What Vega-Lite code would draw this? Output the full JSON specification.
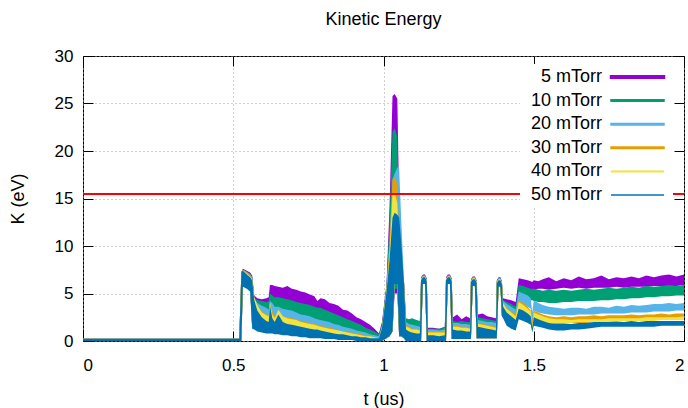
{
"$schema": "https://vega.github.io/schema/vega-lite/v6.json",
"width": 601, "height": 285,
"autosize": {"type": "none"},
"padding": {"left": 83, "top": 56, "right": 4, "bottom": 67},
"title": {"text": "Kinetic Energy", "fontSize": 18, "font": "Liberation Sans", "fontWeight": "normal", "color": "#000", "offset": 18, "anchor": "middle"},
"config": {
  "view": {"stroke": "#000", "strokeWidth": 1},
  "font": "Liberation Sans",
  "axis": {"labelFont": "Liberation Sans", "labelFontSize": 17, "labelColor": "#000", "titleFont": "Liberation Sans", "titleFontSize": 18, "titleFontWeight": "normal", "titleColor": "#000", "tickColor": "#000", "domain": false, "gridColor": "#a0a0a0", "gridDash": [1, 3], "gridWidth": 1}
},
"datasets": {"ke": [
{"t":0,"h5":0.25,"l5":0,"h10":0.25,"l10":0,"h20":0.25,"l20":0,"h30":0.25,"l30":0,"h40":0.25,"l40":0,"h50":0.25,"l50":0},
{"t":0.52,"h5":0.25,"l5":0,"h10":0.25,"l10":0,"h20":0.25,"l20":0,"h30":0.25,"l30":0,"h40":0.25,"l40":0,"h50":0.25,"l50":0},
{"t":0.527,"h5":7.2,"l5":0,"h10":7.2,"l10":0,"h20":7.2,"l20":0,"h30":7.3,"l30":0,"h40":7.3,"l40":0,"h50":7.3,"l50":0},
{"t":0.532,"h5":7.6,"l5":6.0,"h10":7.5,"l10":6.0,"h20":7.5,"l20":5.9,"h30":7.5,"l30":5.9,"h40":7.4,"l40":5.8,"h50":7.4,"l50":5.7},
{"t":0.545,"h5":7.4,"l5":6.0,"h10":7.3,"l10":5.9,"h20":7.3,"l20":5.8,"h30":7.2,"l30":5.7,"h40":7.1,"l40":5.6,"h50":7.0,"l50":5.5},
{"t":0.556,"h5":7.2,"l5":5.8,"h10":7.1,"l10":5.7,"h20":7.0,"l20":5.6,"h30":6.9,"l30":5.5,"h40":6.8,"l40":5.4,"h50":6.7,"l50":5.2},
{"t":0.563,"h5":6.9,"l5":1.5,"h10":6.8,"l10":1.5,"h20":6.7,"l20":1.5,"h30":6.6,"l30":1.4,"h40":6.5,"l40":1.4,"h50":6.4,"l50":1.3},
{"t":0.57,"h5":4.8,"l5":1.4,"h10":4.6,"l10":1.4,"h20":4.5,"l20":1.4,"h30":4.4,"l30":1.3,"h40":4.6,"l40":1.3,"h50":4.3,"l50":1.2},
{"t":0.58,"h5":4.5,"l5":1.3,"h10":4.3,"l10":1.3,"h20":4.0,"l20":1.3,"h30":3.6,"l30":1.2,"h40":3.8,"l40":1.2,"h50":3.2,"l50":1.0},
{"t":0.595,"h5":4.4,"l5":1.2,"h10":4.2,"l10":1.2,"h20":3.7,"l20":1.2,"h30":3.1,"l30":1.1,"h40":3.0,"l40":1.0,"h50":2.5,"l50":0.9},
{"t":0.61,"h5":4.5,"l5":1.1,"h10":4.1,"l10":1.1,"h20":3.5,"l20":1.1,"h30":2.8,"l30":1.0,"h40":2.7,"l40":0.9,"h50":2.1,"l50":0.8},
{"t":0.618,"h5":4.6,"l5":1.1,"h10":4.2,"l10":1.1,"h20":3.3,"l20":1.1,"h30":2.7,"l30":1.0,"h40":2.6,"l40":0.9,"h50":2.0,"l50":0.8},
{"t":0.622,"h5":5.9,"l5":1.1,"h10":5.0,"l10":1.1,"h20":4.2,"l20":1.1,"h30":3.9,"l30":1.0,"h40":4.1,"l40":0.9,"h50":3.8,"l50":0.8},
{"t":0.63,"h5":5.9,"l5":1.0,"h10":4.8,"l10":1.0,"h20":4.0,"l20":1.0,"h30":3.2,"l30":0.9,"h40":2.8,"l40":0.9,"h50":2.4,"l50":0.8},
{"t":0.638,"h5":5.8,"l5":1.0,"h10":4.6,"l10":1.0,"h20":3.6,"l20":1.0,"h30":2.6,"l30":0.9,"h40":2.4,"l40":0.8,"h50":2.0,"l50":0.7},
{"t":0.65,"h5":5.7,"l5":1.0,"h10":4.6,"l10":1.0,"h20":3.6,"l20":1.0,"h30":3.0,"l30":0.9,"h40":3.3,"l40":0.8,"h50":2.8,"l50":0.7},
{"t":0.665,"h5":5.6,"l5":0.9,"h10":4.5,"l10":0.9,"h20":3.4,"l20":0.9,"h30":2.6,"l30":0.8,"h40":2.6,"l40":0.8,"h50":2.0,"l50":0.6},
{"t":0.68,"h5":5.8,"l5":0.9,"h10":4.4,"l10":0.9,"h20":3.3,"l20":0.9,"h30":2.5,"l30":0.8,"h40":2.4,"l40":0.7,"h50":1.8,"l50":0.6},
{"t":0.695,"h5":5.5,"l5":0.8,"h10":4.3,"l10":0.8,"h20":3.2,"l20":0.8,"h30":2.4,"l30":0.7,"h40":2.3,"l40":0.7,"h50":1.7,"l50":0.5},
{"t":0.71,"h5":5.4,"l5":0.8,"h10":4.1,"l10":0.8,"h20":3.0,"l20":0.8,"h30":2.3,"l30":0.7,"h40":2.2,"l40":0.6,"h50":1.6,"l50":0.5},
{"t":0.725,"h5":5.2,"l5":0.7,"h10":4.0,"l10":0.7,"h20":2.8,"l20":0.7,"h30":2.1,"l30":0.6,"h40":2.0,"l40":0.6,"h50":1.5,"l50":0.4},
{"t":0.74,"h5":5.1,"l5":0.7,"h10":3.9,"l10":0.7,"h20":2.7,"l20":0.7,"h30":2.0,"l30":0.6,"h40":1.9,"l40":0.5,"h50":1.4,"l50":0.4},
{"t":0.755,"h5":4.9,"l5":0.6,"h10":3.8,"l10":0.6,"h20":2.6,"l20":0.6,"h30":1.9,"l30":0.5,"h40":1.8,"l40":0.5,"h50":1.3,"l50":0.3},
{"t":0.77,"h5":4.7,"l5":0.6,"h10":3.6,"l10":0.6,"h20":2.4,"l20":0.6,"h30":1.8,"l30":0.5,"h40":1.7,"l40":0.4,"h50":1.2,"l50":0.3},
{"t":0.78,"h5":4.2,"l5":0.6,"h10":3.5,"l10":0.6,"h20":2.3,"l20":0.6,"h30":1.7,"l30":0.5,"h40":1.6,"l40":0.4,"h50":1.2,"l50":0.3},
{"t":0.79,"h5":4.5,"l5":0.5,"h10":3.5,"l10":0.5,"h20":2.2,"l20":0.5,"h30":1.6,"l30":0.4,"h40":1.5,"l40":0.4,"h50":1.1,"l50":0.3},
{"t":0.805,"h5":4.4,"l5":0.5,"h10":3.3,"l10":0.5,"h20":2.1,"l20":0.5,"h30":1.5,"l30":0.4,"h40":1.4,"l40":0.3,"h50":1.0,"l50":0.2},
{"t":0.82,"h5":4.0,"l5":0.5,"h10":3.1,"l10":0.5,"h20":2.0,"l20":0.5,"h30":1.4,"l30":0.4,"h40":1.3,"l40":0.3,"h50":0.9,"l50":0.2},
{"t":0.835,"h5":3.9,"l5":0.4,"h10":2.9,"l10":0.4,"h20":1.8,"l20":0.4,"h30":1.3,"l30":0.3,"h40":1.2,"l40":0.3,"h50":0.8,"l50":0.2},
{"t":0.85,"h5":3.7,"l5":0.4,"h10":2.7,"l10":0.4,"h20":1.7,"l20":0.4,"h30":1.1,"l30":0.3,"h40":1.1,"l40":0.2,"h50":0.7,"l50":0.1},
{"t":0.865,"h5":3.3,"l5":0.3,"h10":2.5,"l10":0.3,"h20":1.5,"l20":0.3,"h30":1.0,"l30":0.3,"h40":1.0,"l40":0.2,"h50":0.7,"l50":0.1},
{"t":0.88,"h5":3.2,"l5":0.3,"h10":2.3,"l10":0.3,"h20":1.4,"l20":0.3,"h30":0.9,"l30":0.2,"h40":0.9,"l40":0.2,"h50":0.6,"l50":0.1},
{"t":0.895,"h5":2.9,"l5":0.3,"h10":2.1,"l10":0.3,"h20":1.3,"l20":0.3,"h30":0.9,"l30":0.2,"h40":0.8,"l40":0.1,"h50":0.5,"l50":0.1},
{"t":0.91,"h5":2.5,"l5":0.2,"h10":1.9,"l10":0.2,"h20":1.1,"l20":0.2,"h30":0.8,"l30":0.2,"h40":0.7,"l40":0.1,"h50":0.5,"l50":0},
{"t":0.925,"h5":2.3,"l5":0.2,"h10":1.7,"l10":0.2,"h20":1.0,"l20":0.2,"h30":0.7,"l30":0.1,"h40":0.6,"l40":0.1,"h50":0.4,"l50":0},
{"t":0.94,"h5":2.0,"l5":0.1,"h10":1.4,"l10":0.1,"h20":0.9,"l20":0.1,"h30":0.6,"l30":0.1,"h40":0.5,"l40":0,"h50":0.4,"l50":0},
{"t":0.955,"h5":1.7,"l5":0.1,"h10":1.2,"l10":0.1,"h20":0.7,"l20":0.1,"h30":0.5,"l30":0.1,"h40":0.5,"l40":0,"h50":0.3,"l50":0},
{"t":0.97,"h5":1.3,"l5":0,"h10":1.0,"l10":0,"h20":0.6,"l20":0,"h30":0.4,"l30":0,"h40":0.4,"l40":0,"h50":0.3,"l50":0},
{"t":0.985,"h5":0.8,"l5":0,"h10":0.7,"l10":0,"h20":0.5,"l20":0,"h30":0.4,"l30":0,"h40":0.3,"l40":0,"h50":0.3,"l50":0},
{"t":0.995,"h5":2.0,"l5":0,"h10":1.8,"l10":0,"h20":1.6,"l20":0,"h30":1.5,"l30":0,"h40":1.5,"l40":0,"h50":1.4,"l50":0},
{"t":1.01,"h5":6.0,"l5":0.3,"h10":5.8,"l10":0.3,"h20":5.6,"l20":0.3,"h30":5.5,"l30":0.3,"h40":5.4,"l40":0.3,"h50":5.2,"l50":0.3},
{"t":1.02,"h5":14,"l5":0.5,"h10":12.5,"l10":0.5,"h20":10.5,"l20":0.5,"h30":10,"l30":0.5,"h40":9,"l40":0.5,"h50":8.5,"l50":0.5},
{"t":1.03,"h5":25.8,"l5":1,"h10":22,"l10":1,"h20":17,"l20":1,"h30":17,"l30":1,"h40":15.5,"l40":1,"h50":13,"l50":1},
{"t":1.037,"h5":26,"l5":5,"h10":22.4,"l10":5.5,"h20":17.6,"l20":6,"h30":17.3,"l30":6,"h40":15.6,"l40":6,"h50":13.5,"l50":6},
{"t":1.046,"h5":25.5,"l5":5,"h10":21.5,"l10":5.5,"h20":18.3,"l20":6,"h30":16.5,"l30":6,"h40":14.5,"l40":6,"h50":13.3,"l50":6},
{"t":1.052,"h5":15,"l5":0.5,"h10":13,"l10":0.5,"h20":18.2,"l20":0.5,"h30":11,"l30":0.5,"h40":10,"l40":0.5,"h50":13,"l50":0.5},
{"t":1.06,"h5":7,"l5":0.5,"h10":7,"l10":0.5,"h20":12,"l20":0.5,"h30":7.2,"l30":0.5,"h40":7,"l40":0.5,"h50":10,"l50":0.5},
{"t":1.068,"h5":6.4,"l5":0.3,"h10":6.4,"l10":0.3,"h20":6.5,"l20":0.3,"h30":6.3,"l30":0.3,"h40":6.2,"l40":0.3,"h50":6.2,"l50":0.3},
{"t":1.075,"h5":2.3,"l5":0,"h10":2.4,"l10":0,"h20":2.0,"l20":0,"h30":1.6,"l30":0,"h40":1.5,"l40":0,"h50":1.2,"l50":0},
{"t":1.085,"h5":2.2,"l5":0,"h10":2.3,"l10":0,"h20":1.8,"l20":0,"h30":1.5,"l30":0,"h40":1.4,"l40":0,"h50":1.0,"l50":0},
{"t":1.095,"h5":2.0,"l5":0,"h10":2.4,"l10":0,"h20":1.7,"l20":0,"h30":1.3,"l30":0,"h40":1.2,"l40":0,"h50":0.9,"l50":0},
{"t":1.11,"h5":2.1,"l5":0,"h10":2.2,"l10":0,"h20":1.6,"l20":0,"h30":1.3,"l30":0,"h40":1.2,"l40":0,"h50":0.8,"l50":0},
{"t":1.121,"h5":2.0,"l5":0,"h10":2.1,"l10":0,"h20":1.5,"l20":0,"h30":1.2,"l30":0,"h40":1.1,"l40":0,"h50":0.8,"l50":0},
{"t":1.125,"h5":6.7,"l5":0,"h10":6.6,"l10":0,"h20":6.6,"l20":0,"h30":6.5,"l30":0,"h40":6.5,"l40":0,"h50":6.4,"l50":0},
{"t":1.131,"h5":7.0,"l5":6.2,"h10":6.9,"l10":6.2,"h20":6.9,"l20":6.2,"h30":6.8,"l30":6.1,"h40":6.8,"l40":6.1,"h50":6.7,"l50":6.0},
{"t":1.138,"h5":7.0,"l5":6.2,"h10":6.9,"l10":6.2,"h20":6.9,"l20":6.2,"h30":6.8,"l30":6.1,"h40":6.8,"l40":6.1,"h50":6.7,"l50":6.0},
{"t":1.144,"h5":6.6,"l5":0,"h10":6.5,"l10":0,"h20":6.5,"l20":0,"h30":6.4,"l30":0,"h40":6.4,"l40":0,"h50":6.3,"l50":0},
{"t":1.148,"h5":1.4,"l5":0,"h10":1.3,"l10":0,"h20":1.2,"l20":0,"h30":1.0,"l30":0,"h40":0.9,"l40":0,"h50":0.6,"l50":0},
{"t":1.165,"h5":1.4,"l5":0,"h10":1.3,"l10":0,"h20":1.2,"l20":0,"h30":1.0,"l30":0,"h40":0.9,"l40":0,"h50":0.6,"l50":0},
{"t":1.185,"h5":1.3,"l5":0,"h10":1.3,"l10":0,"h20":1.1,"l20":0,"h30":1.0,"l30":0,"h40":0.9,"l40":0,"h50":0.5,"l50":0},
{"t":1.204,"h5":1.5,"l5":0,"h10":1.4,"l10":0,"h20":1.2,"l20":0,"h30":1.0,"l30":0,"h40":0.9,"l40":0,"h50":0.6,"l50":0},
{"t":1.208,"h5":6.7,"l5":0,"h10":6.6,"l10":0,"h20":6.6,"l20":0,"h30":6.5,"l30":0,"h40":6.5,"l40":0,"h50":6.4,"l50":0},
{"t":1.214,"h5":7.0,"l5":6.2,"h10":6.9,"l10":6.2,"h20":6.9,"l20":6.2,"h30":6.8,"l30":6.1,"h40":6.8,"l40":6.1,"h50":6.7,"l50":6.0},
{"t":1.221,"h5":7.0,"l5":6.2,"h10":6.9,"l10":6.2,"h20":6.9,"l20":6.2,"h30":6.8,"l30":6.1,"h40":6.8,"l40":6.1,"h50":6.7,"l50":6.0},
{"t":1.227,"h5":6.6,"l5":0.2,"h10":6.5,"l10":0.2,"h20":6.5,"l20":0.2,"h30":6.4,"l30":0.2,"h40":6.4,"l40":0.2,"h50":6.3,"l50":0.2},
{"t":1.231,"h5":2.5,"l5":0.2,"h10":2.1,"l10":0.2,"h20":1.9,"l20":0.2,"h30":1.6,"l30":0.2,"h40":1.5,"l40":0.2,"h50":1.2,"l50":0.2},
{"t":1.245,"h5":2.8,"l5":0.2,"h10":2.0,"l10":0.2,"h20":1.9,"l20":0.2,"h30":1.6,"l30":0.2,"h40":1.5,"l40":0.2,"h50":1.1,"l50":0.2},
{"t":1.26,"h5":2.3,"l5":0.2,"h10":2.1,"l10":0.2,"h20":1.8,"l20":0.2,"h30":1.5,"l30":0.2,"h40":1.4,"l40":0.2,"h50":1.1,"l50":0.2},
{"t":1.275,"h5":2.6,"l5":0.2,"h10":2.0,"l10":0.2,"h20":1.8,"l20":0.2,"h30":1.5,"l30":0.2,"h40":1.4,"l40":0.2,"h50":1.0,"l50":0.2},
{"t":1.288,"h5":2.4,"l5":0.2,"h10":2.0,"l10":0.2,"h20":1.7,"l20":0.2,"h30":1.4,"l30":0.2,"h40":1.3,"l40":0.2,"h50":1.0,"l50":0.2},
{"t":1.291,"h5":6.5,"l5":0.2,"h10":6.4,"l10":0.2,"h20":6.4,"l20":0.2,"h30":6.3,"l30":0.2,"h40":6.3,"l40":0.2,"h50":6.2,"l50":0.2},
{"t":1.297,"h5":6.8,"l5":6.0,"h10":6.7,"l10":6.0,"h20":6.7,"l20":6.0,"h30":6.6,"l30":5.9,"h40":6.6,"l40":5.9,"h50":6.5,"l50":5.8},
{"t":1.304,"h5":6.8,"l5":6.0,"h10":6.7,"l10":6.0,"h20":6.7,"l20":6.0,"h30":6.6,"l30":5.9,"h40":6.6,"l40":5.9,"h50":6.5,"l50":5.8},
{"t":1.31,"h5":6.4,"l5":0.3,"h10":6.3,"l10":0.3,"h20":6.3,"l20":0.3,"h30":6.2,"l30":0.3,"h40":6.2,"l40":0.3,"h50":6.1,"l50":0.3},
{"t":1.314,"h5":2.8,"l5":0.3,"h10":2.5,"l10":0.3,"h20":2.2,"l20":0.3,"h30":1.9,"l30":0.3,"h40":1.8,"l40":0.3,"h50":1.5,"l50":0.3},
{"t":1.33,"h5":2.9,"l5":0.3,"h10":2.4,"l10":0.3,"h20":2.1,"l20":0.3,"h30":1.8,"l30":0.3,"h40":1.7,"l40":0.3,"h50":1.4,"l50":0.3},
{"t":1.345,"h5":2.6,"l5":0.3,"h10":2.3,"l10":0.3,"h20":2.0,"l20":0.3,"h30":1.7,"l30":0.3,"h40":1.6,"l40":0.3,"h50":1.3,"l50":0.3},
{"t":1.36,"h5":2.5,"l5":0.3,"h10":2.2,"l10":0.3,"h20":2.0,"l20":0.3,"h30":1.6,"l30":0.3,"h40":1.5,"l40":0.3,"h50":1.2,"l50":0.3},
{"t":1.374,"h5":2.4,"l5":0.3,"h10":2.1,"l10":0.3,"h20":1.9,"l20":0.3,"h30":1.5,"l30":0.3,"h40":1.4,"l40":0.3,"h50":1.1,"l50":0.3},
{"t":1.377,"h5":6.4,"l5":0.3,"h10":6.3,"l10":0.3,"h20":6.3,"l20":0.3,"h30":6.2,"l30":0.3,"h40":6.2,"l40":0.3,"h50":6.1,"l50":0.3},
{"t":1.383,"h5":6.7,"l5":5.9,"h10":6.6,"l10":5.9,"h20":6.6,"l20":5.9,"h30":6.5,"l30":5.8,"h40":6.5,"l40":5.8,"h50":6.4,"l50":5.7},
{"t":1.389,"h5":6.7,"l5":5.9,"h10":6.6,"l10":5.9,"h20":6.6,"l20":5.9,"h30":6.5,"l30":5.8,"h40":6.5,"l40":5.8,"h50":6.4,"l50":5.7},
{"t":1.394,"h5":6.3,"l5":2.6,"h10":6.2,"l10":2.6,"h20":6.2,"l20":2.6,"h30":6.1,"l30":2.6,"h40":6.1,"l40":2.6,"h50":6.0,"l50":2.6},
{"t":1.398,"h5":4.5,"l5":2.6,"h10":4.3,"l10":2.6,"h20":4.2,"l20":2.6,"h30":4.0,"l30":2.6,"h40":4.0,"l40":2.6,"h50":3.6,"l50":2.4},
{"t":1.41,"h5":4.4,"l5":1.8,"h10":4.1,"l10":1.8,"h20":3.9,"l20":1.8,"h30":3.5,"l30":1.8,"h40":3.4,"l40":1.8,"h50":3.0,"l50":1.6},
{"t":1.425,"h5":4.3,"l5":1.4,"h10":3.9,"l10":1.4,"h20":3.6,"l20":1.4,"h30":3.1,"l30":1.4,"h40":3.0,"l40":1.4,"h50":2.6,"l50":1.3},
{"t":1.44,"h5":4.1,"l5":1.2,"h10":3.6,"l10":1.2,"h20":3.3,"l20":1.2,"h30":2.8,"l30":1.2,"h40":2.6,"l40":1.2,"h50":2.2,"l50":1.1},
{"t":1.45,"h5":6.6,"l5":5.2,"h10":5.9,"l10":4.6,"h20":5.2,"l20":4.0,"h30":4.3,"l30":3.4,"h40":4.1,"l40":3.2,"h50":3.4,"l50":2.3},
{"t":1.465,"h5":6.5,"l5":5.3,"h10":5.8,"l10":4.5,"h20":5.0,"l20":3.8,"h30":4.0,"l30":3.1,"h40":3.8,"l40":2.9,"h50":3.2,"l50":2.1},
{"t":1.48,"h5":6.4,"l5":5.4,"h10":5.6,"l10":4.4,"h20":4.8,"l20":3.6,"h30":3.6,"l30":2.8,"h40":3.4,"l40":2.6,"h50":2.9,"l50":1.9},
{"t":1.49,"h5":6.3,"l5":5.4,"h10":5.5,"l10":4.3,"h20":4.5,"l20":3.4,"h30":3.2,"l30":2.5,"h40":3.1,"l40":2.3,"h50":2.6,"l50":1.7},
{"t":1.495,"h5":6.2,"l5":5.4,"h10":5.5,"l10":4.3,"h20":3.0,"l20":1.5,"h30":2.2,"l30":1.2,"h40":1.5,"l40":1.0,"h50":1.4,"l50":0.9},
{"t":1.5,"h5":6.4,"l5":5.4,"h10":5.5,"l10":4.2,"h20":4.3,"l20":3.2,"h30":3.2,"l30":2.4,"h40":3.0,"l40":2.2,"h50":2.5,"l50":1.6},
{"t":1.515,"h5":6.3,"l5":5.5,"h10":5.4,"l10":4.1,"h20":4.0,"l20":3.0,"h30":3.0,"l30":2.2,"h40":2.8,"l40":2.1,"h50":2.3,"l50":1.5},
{"t":1.53,"h5":6.5,"l5":5.5,"h10":5.3,"l10":4.1,"h20":3.8,"l20":2.9,"h30":2.8,"l30":2.1,"h40":2.6,"l40":2.0,"h50":2.1,"l50":1.4},
{"t":1.55,"h5":6.7,"l5":5.4,"h10":5.4,"l10":4.0,"h20":3.6,"l20":2.8,"h30":2.6,"l30":1.9,"h40":2.4,"l40":1.9,"h50":1.9,"l50":1.2},
{"t":1.575,"h5":6.3,"l5":5.5,"h10":5.3,"l10":4.0,"h20":3.5,"l20":2.7,"h30":2.5,"l30":1.8,"h40":2.3,"l40":1.9,"h50":1.8,"l50":1.1},
{"t":1.6,"h5":6.6,"l5":5.6,"h10":5.4,"l10":4.1,"h20":3.4,"l20":2.7,"h30":2.6,"l30":1.8,"h40":2.3,"l40":1.9,"h50":1.8,"l50":1.1},
{"t":1.625,"h5":6.4,"l5":5.5,"h10":5.3,"l10":4.1,"h20":3.5,"l20":2.7,"h30":2.5,"l30":1.9,"h40":2.2,"l40":1.9,"h50":1.8,"l50":1.2},
{"t":1.65,"h5":6.8,"l5":5.6,"h10":5.4,"l10":4.2,"h20":3.5,"l20":2.8,"h30":2.6,"l30":1.9,"h40":2.3,"l40":2.0,"h50":1.9,"l50":1.2},
{"t":1.675,"h5":6.5,"l5":5.5,"h10":5.5,"l10":4.2,"h20":3.4,"l20":2.8,"h30":2.6,"l30":1.9,"h40":2.3,"l40":2.0,"h50":1.9,"l50":1.3},
{"t":1.7,"h5":6.6,"l5":5.6,"h10":5.4,"l10":4.2,"h20":3.6,"l20":2.8,"h30":2.7,"l30":2.0,"h40":2.3,"l40":2.0,"h50":2.0,"l50":1.4},
{"t":1.725,"h5":6.9,"l5":5.6,"h10":5.5,"l10":4.3,"h20":3.6,"l20":2.9,"h30":2.6,"l30":2.0,"h40":2.3,"l40":2.0,"h50":2.0,"l50":1.5},
{"t":1.75,"h5":6.5,"l5":5.6,"h10":5.6,"l10":4.3,"h20":3.5,"l20":2.9,"h30":2.7,"l30":2.0,"h40":2.4,"l40":2.0,"h50":2.0,"l50":1.5},
{"t":1.775,"h5":6.7,"l5":5.7,"h10":5.5,"l10":4.4,"h20":3.7,"l20":2.9,"h30":2.7,"l30":2.0,"h40":2.4,"l40":2.1,"h50":2.0,"l50":1.5},
{"t":1.8,"h5":6.6,"l5":5.6,"h10":5.6,"l10":4.4,"h20":3.6,"l20":2.9,"h30":2.7,"l30":2.1,"h40":2.4,"l40":2.1,"h50":2.0,"l50":1.5},
{"t":1.825,"h5":6.8,"l5":5.7,"h10":5.7,"l10":4.5,"h20":3.8,"l20":3.0,"h30":2.8,"l30":2.1,"h40":2.4,"l40":2.1,"h50":2.1,"l50":1.5},
{"t":1.85,"h5":6.6,"l5":5.7,"h10":5.6,"l10":4.5,"h20":3.7,"l20":3.0,"h30":2.7,"l30":2.1,"h40":2.4,"l40":2.1,"h50":2.0,"l50":1.5},
{"t":1.875,"h5":6.9,"l5":5.7,"h10":5.8,"l10":4.6,"h20":3.8,"l20":3.0,"h30":2.8,"l30":2.1,"h40":2.5,"l40":2.1,"h50":2.1,"l50":1.5},
{"t":1.9,"h5":6.7,"l5":5.8,"h10":5.7,"l10":4.6,"h20":3.9,"l20":3.1,"h30":2.8,"l30":2.2,"h40":2.5,"l40":2.1,"h50":2.1,"l50":1.5},
{"t":1.925,"h5":6.9,"l5":5.8,"h10":5.8,"l10":4.7,"h20":3.9,"l20":3.1,"h30":2.9,"l30":2.2,"h40":2.5,"l40":2.2,"h50":2.1,"l50":1.6},
{"t":1.95,"h5":7.0,"l5":5.8,"h10":5.9,"l10":4.7,"h20":4.0,"l20":3.1,"h30":2.8,"l30":2.2,"h40":2.5,"l40":2.2,"h50":2.1,"l50":1.6},
{"t":1.975,"h5":6.8,"l5":5.8,"h10":5.8,"l10":4.8,"h20":3.9,"l20":3.2,"h30":2.9,"l30":2.3,"h40":2.5,"l40":2.2,"h50":2.1,"l50":1.6},
{"t":2.0,"h5":7.0,"l5":5.9,"h10":5.9,"l10":4.8,"h20":4.0,"l20":3.2,"h30":2.9,"l30":2.3,"h40":2.6,"l40":2.2,"h50":2.1,"l50":1.6}
]},
"data": {"name": "ke"},
"layer": [
  {"mark": {"type": "area", "clip": true, "opacity": 1},
   "encoding": {
     "x": {"field": "t", "type": "quantitative", "scale": {"domain": [0, 2], "nice": false}, "axis": {"orient": "bottom", "values": [0, 0.5, 1, 1.5, 2], "format": "~g", "grid": true, "tickSize": -10, "labelPadding": 26, "title": "t (us)", "titlePadding": 17}},
     "y": {"field": "h5", "type": "quantitative", "scale": {"domain": [0, 30], "nice": false}, "axis": {"orient": "left", "values": [0, 5, 10, 15, 20, 25, 30], "grid": true, "tickSize": -10, "labelPadding": 20, "title": "K (eV)", "titlePadding": 27}},
     "y2": {"field": "l5"},
     "color": {"datum": "5 mTorr", "type": "nominal",
       "scale": {"domain": ["5 mTorr", "10 mTorr", "20 mTorr", "30 mTorr", "40 mTorr", "50 mTorr"], "range": ["#9400d3", "#009e73", "#56b4e9", "#e69f00", "#f0e442", "#0072b2"]},
       "legend": {"orient": "none", "legendX": 437, "legendY": 8, "title": null, "symbolType": "M-5.3,-0.15H5.3V0.15H-5.3Z", "symbolSize": 100, "symbolStrokeWidth": 0, "symbolOpacity": 1, "symbolOffset": 104.5, "rowPadding": 5.6, "labelFont": "Liberation Sans", "labelFontSize": 18, "labelColor": "#000", "labelAlign": "right", "labelOffset": -44.5, "fillColor": "white", "padding": 4,
         "encoding": {"symbols": {
           "fill": {"value": {"expr": "scale('color', datum.value)"}},
           "stroke": {"value": {"expr": "scale('color', datum.value)"}},
           "strokeWidth": {"value": {"expr": "datum.value === '5 mTorr' ? 2.5 : datum.value === '40 mTorr' ? 0.5 : datum.value === '50 mTorr' ? 0.01 : 1.5"}},
           "opacity": {"value": 1}}}}}
   }},
  {"mark": {"type": "area", "clip": true, "opacity": 1},
   "encoding": {"x": {"field": "t", "type": "quantitative", "axis": null}, "y": {"field": "h10", "type": "quantitative", "axis": null}, "y2": {"field": "l10"}, "color": {"datum": "10 mTorr", "type": "nominal"}}},
  {"mark": {"type": "area", "clip": true, "opacity": 1},
   "encoding": {"x": {"field": "t", "type": "quantitative", "axis": null}, "y": {"field": "h20", "type": "quantitative", "axis": null}, "y2": {"field": "l20"}, "color": {"datum": "20 mTorr", "type": "nominal"}}},
  {"mark": {"type": "area", "clip": true, "opacity": 1},
   "encoding": {"x": {"field": "t", "type": "quantitative", "axis": null}, "y": {"field": "h30", "type": "quantitative", "axis": null}, "y2": {"field": "l30"}, "color": {"datum": "30 mTorr", "type": "nominal"}}},
  {"mark": {"type": "area", "clip": true, "opacity": 1},
   "encoding": {"x": {"field": "t", "type": "quantitative", "axis": null}, "y": {"field": "h40", "type": "quantitative", "axis": null}, "y2": {"field": "l40"}, "color": {"datum": "40 mTorr", "type": "nominal"}}},
  {"mark": {"type": "area", "clip": true, "opacity": 1},
   "encoding": {"x": {"field": "t", "type": "quantitative", "axis": null}, "y": {"field": "h50", "type": "quantitative", "axis": null}, "y2": {"field": "l50"}, "color": {"datum": "50 mTorr", "type": "nominal"}}},
  {"mark": {"type": "rule", "color": "#ff0000", "strokeWidth": 1},
   "encoding": {
     "x": {"datum": 0, "type": "quantitative", "axis": {"orient": "top", "values": [0, 0.5, 1, 1.5, 2], "labels": false, "grid": false, "tickSize": -10, "title": null}},
     "x2": {"datum": 2},
     "y": {"datum": 15.5, "type": "quantitative", "axis": {"orient": "right", "values": [0, 5, 10, 15, 20, 25, 30], "labels": false, "grid": false, "tickSize": -10, "title": null}}
   }}
],
"resolve": {"axis": {"x": "independent", "y": "independent"}}
}
